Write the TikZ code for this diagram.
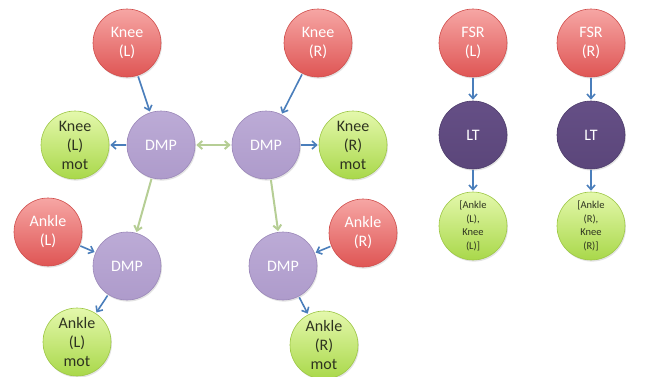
\documentclass[tikz,border=0pt]{standalone}
\usepackage{fontspec}
\setmainfont{Carlito}
\usetikzlibrary{arrows.meta,shadows}

\definecolor{redtop}{HTML}{F6A6A4}
\definecolor{redbot}{HTML}{DF5554}
\definecolor{redrim}{HTML}{CF4C4A}
\definecolor{greentop}{HTML}{E4F8AC}
\definecolor{greenbot}{HTML}{A9D84A}
\definecolor{greenrim}{HTML}{9CC644}
\definecolor{lilac}{HTML}{BCABD6}
\definecolor{lilacbot}{HTML}{AE9BCB}
\definecolor{lilacrim}{HTML}{9A87B8}
\definecolor{plum}{HTML}{654F86}
\definecolor{plumbot}{HTML}{5B467A}
\definecolor{plumrim}{HTML}{4C3B6A}
\definecolor{wire}{HTML}{4A7EBB}
\definecolor{sage}{HTML}{B6CE95}
\definecolor{ink}{HTML}{2E3320}

\tikzset{
  ball/.style={circle, minimum size=68pt, inner sep=0pt, align=center,
    line width=0.6pt, font=\fontsize{16}{19}\selectfont,
    drop shadow={opacity=0.22, shadow xshift=1pt, shadow yshift=-1.6pt}},
  sensor/.style={ball, top color=redtop, bottom color=redbot, draw=redrim, text=white},
  motor/.style={ball, top color=greentop, bottom color=greenbot, draw=greenrim, text=ink},
  prim/.style={ball, top color=lilac, bottom color=lilacbot, draw=lilacrim, text=white},
  lt/.style={ball, top color=plum, bottom color=plumbot, draw=plumrim, text=white},
  feed/.style={draw=wire, line width=1.6pt, -{Straight Barb[length=4.5pt,width=8pt]}, shorten <=1pt, shorten >=1pt},
  couple/.style={draw=sage, line width=2pt, -{Straight Barb[length=4.5pt,width=8pt]}, shorten <=1pt, shorten >=1pt},
}

\begin{document}
\begin{tikzpicture}[x=1pt,y=-1pt]
\useasboundingbox (0,0) rectangle (662,376);

% knee and ankle chains
\node[sensor] (kneeL) at (127,43) {Knee\\(L)};
\node[sensor] (kneeR) at (318,43) {Knee\\(R)};
\node[prim] (dmpKL) at (161,145) {DMP};
\node[prim] (dmpKR) at (266,145) {DMP};
\node[motor] (kneeLm) at (75,145) {Knee\\(L)\\mot};
\node[motor] (kneeRm) at (353,145) {Knee\\(R)\\mot};
\node[sensor] (ankL) at (48,232) {Ankle\\(L)};
\node[prim] (dmpAL) at (127,266) {DMP};
\node[motor] (ankLm) at (77,342) {Ankle\\(L)\\mot};
\node[sensor] (ankR) at (363,233) {Ankle\\(R)};
\node[prim] (dmpAR) at (283,266) {DMP};
\node[motor] (ankRm) at (324,345) {Ankle\\(R)\\mot};

% foot switch chains
\node[sensor] (fsrL) at (473,43) {FSR\\(L)};
\node[lt] (ltL) at (473,135) {LT};
\node[motor, font=\fontsize{10.5}{13.5}\selectfont] (outL) at (473,226) {[Ankle\\(L),\\Knee\\(L)]};
\node[sensor] (fsrR) at (591,43) {FSR\\(R)};
\node[lt] (ltR) at (591,135) {LT};
\node[motor, font=\fontsize{10.5}{13.5}\selectfont] (outR) at (591,226) {[Ankle\\(R),\\Knee\\(R)]};

% connectors
\draw[feed] (kneeL) -- (dmpKL);
\draw[feed] (kneeR) -- (dmpKR);
\draw[feed] (dmpKL) -- (kneeLm);
\draw[feed] (dmpKR) -- (kneeRm);
\draw[couple, {Straight Barb[length=4.5pt,width=8pt]}-{Straight Barb[length=4.5pt,width=8pt]}] (dmpKL) -- (dmpKR);
\draw[couple] (dmpKL) -- (dmpAL);
\draw[couple] (dmpKR) -- (dmpAR);
\draw[feed] (ankL) -- (dmpAL);
\draw[feed] (dmpAL) -- (ankLm);
\draw[feed] (ankR) -- (dmpAR);
\draw[feed] (dmpAR) -- (ankRm);
\draw[feed] (fsrL) -- (ltL);
\draw[feed] (ltL) -- (outL);
\draw[feed] (fsrR) -- (ltR);
\draw[feed] (ltR) -- (outR);
\end{tikzpicture}
\end{document}
